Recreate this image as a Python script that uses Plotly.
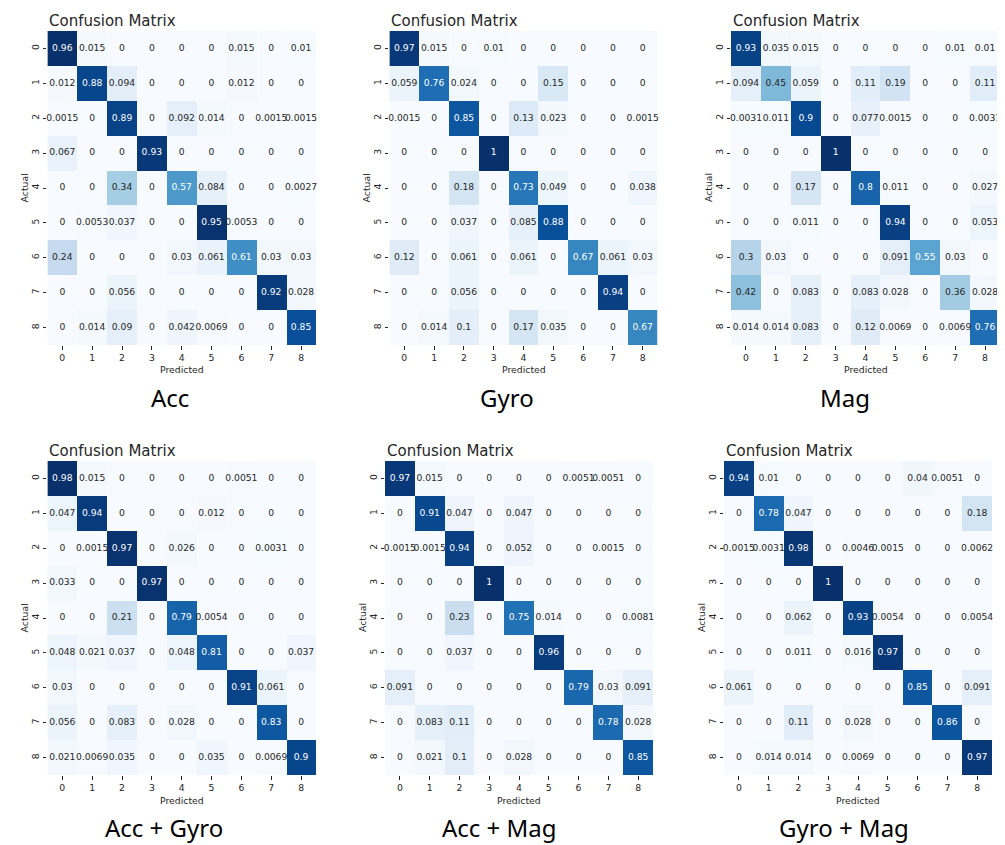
import plotly.graph_objects as go

labels = ["0", "1", "2", "3", "4", "5", "6", "7", "8"]

acc = [
    [0.96, 0.015, 0, 0, 0, 0, 0.015, 0, 0.01],
    [0.012, 0.88, 0.094, 0, 0, 0, 0.012, 0, 0],
    [0.0015, 0, 0.89, 0, 0.092, 0.014, 0, 0.0015, 0.0015],
    [0.067, 0, 0, 0.93, 0, 0, 0, 0, 0],
    [0, 0, 0.34, 0, 0.57, 0.084, 0, 0, 0.0027],
    [0, 0.0053, 0.037, 0, 0, 0.95, 0.0053, 0, 0],
    [0.24, 0, 0, 0, 0.03, 0.061, 0.61, 0.03, 0.03],
    [0, 0, 0.056, 0, 0, 0, 0, 0.92, 0.028],
    [0, 0.014, 0.09, 0, 0.042, 0.0069, 0, 0, 0.85],
]
gyro = [
    [0.97, 0.015, 0, 0.01, 0, 0, 0, 0, 0],
    [0.059, 0.76, 0.024, 0, 0, 0.15, 0, 0, 0],
    [0.0015, 0, 0.85, 0, 0.13, 0.023, 0, 0, 0.0015],
    [0, 0, 0, 1, 0, 0, 0, 0, 0],
    [0, 0, 0.18, 0, 0.73, 0.049, 0, 0, 0.038],
    [0, 0, 0.037, 0, 0.085, 0.88, 0, 0, 0],
    [0.12, 0, 0.061, 0, 0.061, 0, 0.67, 0.061, 0.03],
    [0, 0, 0.056, 0, 0, 0, 0, 0.94, 0],
    [0, 0.014, 0.1, 0, 0.17, 0.035, 0, 0, 0.67],
]
mag = [
    [0.93, 0.035, 0.015, 0, 0, 0, 0, 0.01, 0.01],
    [0.094, 0.45, 0.059, 0, 0.11, 0.19, 0, 0, 0.11],
    [0.0031, 0.011, 0.9, 0, 0.077, 0.0015, 0, 0, 0.0031],
    [0, 0, 0, 1, 0, 0, 0, 0, 0],
    [0, 0, 0.17, 0, 0.8, 0.011, 0, 0, 0.027],
    [0, 0, 0.011, 0, 0, 0.94, 0, 0, 0.053],
    [0.3, 0.03, 0, 0, 0, 0.091, 0.55, 0.03, 0],
    [0.42, 0, 0.083, 0, 0.083, 0.028, 0, 0.36, 0.028],
    [0.014, 0.014, 0.083, 0, 0.12, 0.0069, 0, 0.0069, 0.76],
]
acc_gyro = [
    [0.98, 0.015, 0, 0, 0, 0, 0.0051, 0, 0],
    [0.047, 0.94, 0, 0, 0, 0.012, 0, 0, 0],
    [0, 0.0015, 0.97, 0, 0.026, 0, 0, 0.0031, 0],
    [0.033, 0, 0, 0.97, 0, 0, 0, 0, 0],
    [0, 0, 0.21, 0, 0.79, 0.0054, 0, 0, 0],
    [0.048, 0.021, 0.037, 0, 0.048, 0.81, 0, 0, 0.037],
    [0.03, 0, 0, 0, 0, 0, 0.91, 0.061, 0],
    [0.056, 0, 0.083, 0, 0.028, 0, 0, 0.83, 0],
    [0.021, 0.0069, 0.035, 0, 0, 0.035, 0, 0.0069, 0.9],
]
acc_mag = [
    [0.97, 0.015, 0, 0, 0, 0, 0.0051, 0.0051, 0],
    [0, 0.91, 0.047, 0, 0.047, 0, 0, 0, 0],
    [0.0015, 0.0015, 0.94, 0, 0.052, 0, 0, 0.0015, 0],
    [0, 0, 0, 1, 0, 0, 0, 0, 0],
    [0, 0, 0.23, 0, 0.75, 0.014, 0, 0, 0.0081],
    [0, 0, 0.037, 0, 0, 0.96, 0, 0, 0],
    [0.091, 0, 0, 0, 0, 0, 0.79, 0.03, 0.091],
    [0, 0.083, 0.11, 0, 0, 0, 0, 0.78, 0.028],
    [0, 0.021, 0.1, 0, 0.028, 0, 0, 0, 0.85],
]
gyro_mag = [
    [0.94, 0.01, 0, 0, 0, 0, 0.04, 0.0051, 0],
    [0, 0.78, 0.047, 0, 0, 0, 0, 0, 0.18],
    [0.0015, 0.0031, 0.98, 0, 0.0046, 0.0015, 0, 0, 0.0062],
    [0, 0, 0, 1, 0, 0, 0, 0, 0],
    [0, 0, 0.062, 0, 0.93, 0.0054, 0, 0, 0.0054],
    [0, 0, 0.011, 0, 0.016, 0.97, 0, 0, 0],
    [0.061, 0, 0, 0, 0, 0, 0.85, 0, 0.091],
    [0, 0, 0.11, 0, 0.028, 0, 0, 0.86, 0],
    [0, 0.014, 0.014, 0, 0.0069, 0, 0, 0, 0.97],
]

matrices = [acc, gyro, mag, acc_gyro, acc_mag, gyro_mag]
captions = ["Acc", "Gyro", "Mag", "Acc + Gyro", "Acc + Mag", "Gyro + Mag"]

# The page body has an 8px margin, so the figure starts at (8, 8) on screen.
OFF = 8
W, H = 997, 837
# panel pixel boxes in screen coordinates (left, right, top, bottom)
boxes = [
    (47.4, 316.0, 31, 345),
    (389.4, 657.6, 31, 345),
    (731.0, 1000.0, 31, 345),
    (47.4, 316.0, 461, 775),
    (385.0, 653.0, 461, 775),
    (724.0, 992.0, 461, 775),
]
caption_x = [170, 507, 845, 164, 499, 844]
caption_y = [398, 398, 398, 827, 827, 827]

blues = ["#f7fbff", "#deebf7", "#c6dbef", "#9ecae1", "#6baed6",
         "#4292c6", "#2171b5", "#08519c", "#08306b"]
colorscale = [[i / 8, c] for i, c in enumerate(blues)]


def hex_rgb(h):
    h = h.lstrip("#")
    return [int(h[i:i + 2], 16) for i in (0, 2, 4)]


def cmap(t):
    t = min(max(t, 0.0), 1.0)
    pos = t * 8
    i = min(int(pos), 7)
    f = pos - i
    a, b = hex_rgb(blues[i]), hex_rgb(blues[i + 1])
    return [a[k] + (b[k] - a[k]) * f for k in range(3)]


def lum(rgb):
    out = []
    for v in rgb:
        v = v / 255
        out.append(v / 12.92 if v <= 0.03928 else ((v + 0.055) / 1.055) ** 2.4)
    return 0.2126 * out[0] + 0.7152 * out[1] + 0.0722 * out[2]


def px_x(v):
    return (v - OFF) / W


def px_y(v):
    return 1 - (v - OFF) / H


fig = go.Figure()
font_family = "DejaVu Sans"
annotations = []
idx = list(range(9))

for p, (m, cap, box) in enumerate(zip(matrices, captions, boxes)):
    n = p + 1
    xa = "x" if n == 1 else f"x{n}"
    ya = "y" if n == 1 else f"y{n}"
    zmax = max(max(r) for r in m)
    fig.add_trace(go.Heatmap(
        z=m, x=idx, y=idx, zmin=0, zmax=zmax, colorscale=colorscale,
        showscale=False, xaxis=xa, yaxis=ya, hoverinfo="skip",
    ))
    tx, ty, tt, tc = [], [], [], []
    for r in range(9):
        for c in range(9):
            v = m[r][c]
            tx.append(c)
            ty.append(r)
            tt.append(format(v, ".2g"))
            col = cmap(v / zmax)
            tc.append("#262626" if lum(col) > 0.408 else "#ffffff")
    fig.add_trace(go.Scatter(
        x=tx, y=ty, text=tt, mode="text", xaxis=xa, yaxis=ya,
        textfont=dict(family=font_family, size=9.2, color=tc),
        cliponaxis=False, hoverinfo="skip", showlegend=False,
    ))
    l, r_, t, b = box
    axis_common = dict(
        showgrid=False, zeroline=False, showline=False, ticks="outside",
        ticklen=3.5, tickwidth=0.8, tickcolor="#262626",
        tickfont=dict(family=font_family, size=9.3, color="#262626"),
        tickvals=idx, ticktext=labels, fixedrange=True,
    )
    fig.update_layout({
        ("xaxis" if n == 1 else f"xaxis{n}"): dict(
            domain=[px_x(l), px_x(r_)], range=[-0.5, 8.5], anchor=ya, **axis_common),
        ("yaxis" if n == 1 else f"yaxis{n}"): dict(
            domain=[px_y(b), px_y(t)], range=[8.5, -0.5], anchor=xa,
            tickangle=-90, **axis_common),
    })
    annotations.append(dict(
        text="Confusion Matrix", x=px_x(l), y=px_y(t - 10), xref="paper", yref="paper",
        xanchor="left", yanchor="middle", showarrow=False,
        font=dict(family=font_family, size=15, color="#262626"),
    ))
    annotations.append(dict(
        text="Predicted", x=px_x((l + r_) / 2), y=px_y(b + 25), xref="paper", yref="paper",
        xanchor="center", yanchor="middle", showarrow=False,
        font=dict(family=font_family, size=9.3, color="#262626"),
    ))
    annotations.append(dict(
        text="Actual", x=px_x(l - 23), y=px_y((t + b) / 2), xref="paper", yref="paper",
        xanchor="center", yanchor="middle", showarrow=False, textangle=-90,
        font=dict(family=font_family, size=9.3, color="#262626"),
    ))
    annotations.append(dict(
        text=cap, x=px_x(caption_x[p]), y=px_y(caption_y[p]), xref="paper", yref="paper",
        xanchor="center", yanchor="middle", showarrow=False,
        font=dict(family="Noto Sans", size=24, color="#000000"),
    ))

fig.update_layout(
    width=W, height=H, margin=dict(l=0, r=0, t=0, b=0),
    paper_bgcolor="white", plot_bgcolor="white", showlegend=False,
    annotations=annotations,
)

fig.write_html("out.html")
